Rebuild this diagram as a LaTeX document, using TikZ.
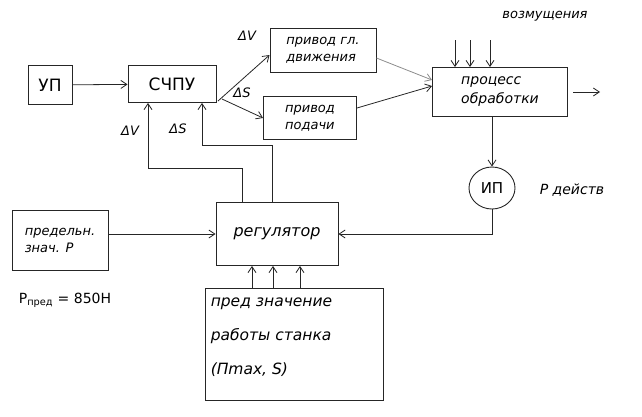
\documentclass[tikz,border=0pt]{standalone}
\usepackage{fontspec}
\setmainfont{DejaVu Sans}
\usetikzlibrary{arrows.meta,shapes.geometric}
\begin{document}
\begin{tikzpicture}[x=1pt,y=-1pt,
  box/.style={draw=black!85,line width=0.9pt,rectangle,inner sep=0pt,font=\itshape\fontsize{13}{17}\selectfont,align=left},
  conn/.style={draw=black!85,line width=0.8pt,-{Straight Barb[length=6pt,width=8pt]}},
  lightconn/.style={conn,draw=black!45},
  lbl/.style={font=\itshape\fontsize{13}{15}\selectfont}]
\useasboundingbox (0,0) rectangle (642,416);
% boxes
\node[box,minimum width=44,minimum height=39,font=\fontsize{17}{19}\selectfont] (up) at (50,85) {УП};
\node[box,minimum width=88,minimum height=37,font=\fontsize{17}{19}\selectfont] (chpu) at (172,84) {СЧПУ};
\node[box,minimum width=106,minimum height=44] (pgd) at (323,50) {привод гл.\\движения};
\node[box,minimum width=93,minimum height=43] (pp) at (310,118) {привод\\подачи};
\node[box,minimum width=135,minimum height=49,font=\itshape\fontsize{14}{19}\selectfont] (proc) at (500,92) {процесс\\обработки};
\node[lbl] (voz) at (545,16) {возмущения};
\node[draw=black!85,line width=0.9pt,ellipse,minimum width=46,minimum height=42,font=\fontsize{15}{17}\selectfont] (ip) at (492,188) {ИП};
\node[lbl,font=\itshape\fontsize{14}{16}\selectfont] (pd) at (572,190) {P действ};
\node[box,minimum width=122,minimum height=63,font=\itshape\fontsize{16}{18}\selectfont] (reg) at (277,234) {регулятор};
\node[box,minimum width=96,minimum height=60] (pred) at (60,240) {предельн.\\знач. P};
\node[lbl,font=\fontsize{14}{16}\selectfont] (p850) at (65,300) {P\textsubscript{пред} = 850Н};
\node[box,minimum width=178,minimum height=112] (znach) at (294,344) {};
\node[anchor=north west,inner sep=0pt,align=left,font=\itshape\fontsize{15.5}{34}\selectfont] (znachtext) at ([xshift=6pt,yshift=-10pt]znach.north west) {пред значение\\работы станка\\(Пmax, S)};
% coordinates for free ends
\coordinate (outend) at (600,92);
\coordinate (outstart) at (573,92);
\coordinate (v1) at (455,40);
\coordinate (v2) at (470,40);
\coordinate (v3) at (490,40);
\coordinate (c1) at (218,101);
\coordinate (c2) at (222,99);
% connections
\draw[conn] (up) -- (chpu);
\draw[conn] (c1) -- (pgd.west |- 0,55);
\draw[conn] (c2) -- (pp.west |- 0,118);
\node[lbl] (dv1) at (247,36) {ΔV};
\node[lbl] (ds1) at (242,93) {ΔS};
\draw[lightconn] (pgd.east |- 0,58) -- (proc.west |- 0,80);
\draw[conn] (pp.east |- 0,108) -- (proc.west |- 0,86);
\draw[conn] (v1) -- (v1 |- proc.north);
\draw[conn] (v2) -- (v2 |- proc.north);
\draw[conn] (v3) -- (v3 |- proc.north);
\draw[conn] (outstart) -- (outend);
\draw[conn] (proc.south -| ip) -- (ip.north);
\draw[conn] (ip.south) |- (reg.east);
\draw[conn] (pred.east |- reg.west) -- (reg.west);
\draw[conn] (znach.north -| 252,0) -- (reg.south -| 252,0);
\draw[conn] (znach.north -| 273,0) -- (reg.south -| 273,0);
\draw[conn] (znach.north -| 300,0) -- (reg.south -| 300,0);
\draw[conn] (reg.north -| 242,0) |- (148,168) -- (chpu.south -| 148,0);
\draw[conn] (reg.north -| 272,0) |- (202,145) -- (chpu.south -| 202,0);
\node[lbl] (dv2) at (130,131) {ΔV};
\node[lbl] (ds2) at (178,129) {ΔS};
\end{tikzpicture}
\end{document}
